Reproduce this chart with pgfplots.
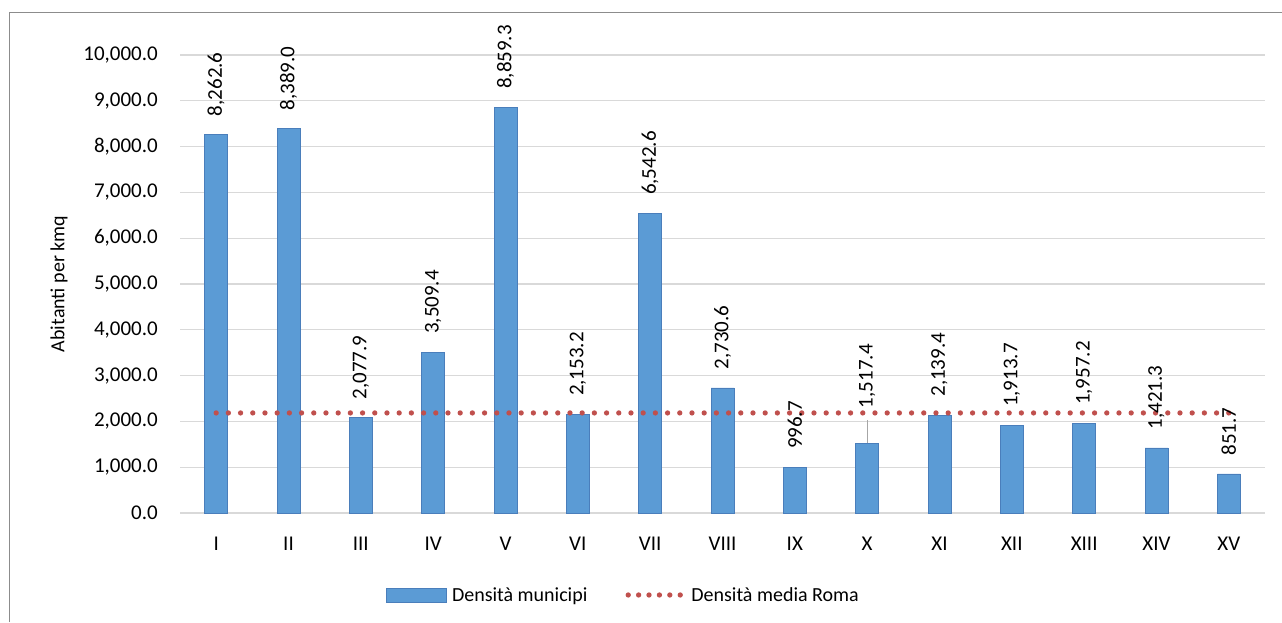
\documentclass[border=0pt]{standalone}
\usepackage{fontspec}
\setmainfont{Carlito}
\usepackage{pgfplots}
\usepackage{pgfplotstable}
\pgfplotsset{compat=1.18}
\definecolor{barblue}{HTML}{5B9BD5}
\definecolor{baredge}{HTML}{4A7EBB}
\definecolor{avgred}{HTML}{C0504D}
\definecolor{gridgray}{HTML}{D9D9D9}
\definecolor{framegray}{HTML}{8C8C8C}
\newcommand\ff{\fontsize{21}{25}\selectfont}
\newcommand\lf{\fontsize{20}{24}\selectfont}

\pgfplotstableread{
x y
0 8262.6
1 8389.0
2 2077.9
3 3509.4
4 8859.3
5 2153.2
6 6542.6
7 2730.6
8 996.7
9 1517.4
10 2139.4
11 1913.7
12 1957.2
13 1421.3
14 851.7
}\density

\begin{document}
\begin{tikzpicture}
\useasboundingbox (0pt,0pt) rectangle (1282pt,622pt);
\draw[framegray, line width=1pt] (9pt,0pt) -- (9pt,609pt) -- (1282pt,609pt);
\begin{axis}[
  at={(180pt,109pt)}, anchor=south west,
  scale only axis, width=1085pt, height=458pt,
  xmin=-0.5, xmax=14.5, ymin=0, ymax=10000,
  clip=false,
  xtick={0,...,14},
  xticklabels={I,II,III,IV,V,VI,VII,VIII,IX,X,XI,XII,XIII,XIV,XV},
  ytick={0,1000,...,10000},
  scaled y ticks=false,
  ymajorgrids, major grid style={gridgray, line width=1.3pt},
  axis line style={draw=none}, major tick length=0pt,
  /pgf/number format/.cd, fixed, fixed zerofill, precision=1, 1000 sep={,}, assume math mode=true,
  /pgfplots/.cd,
  yticklabel style={font=\ff, anchor=east, inner sep=0pt, xshift=-22pt},
  xticklabel style={font=\ff, anchor=north, inner sep=0pt, yshift=-24pt},
  ylabel={Abitanti per kmq},
  every axis y label/.style={at={(axis description cs:-0.1115,0.5)}, rotate=90, anchor=center, font=\lf},
  legend columns=2,
  legend style={at={(axis description cs:0.1894,-0.179)}, anchor=west, draw=none, fill=none,
    inner sep=0pt, font=\lf, nodes={inner xsep=3.5pt, inner ysep=0pt},
    /tikz/every even column/.append style={column sep=32pt}},
]
\addplot[gray!70, line width=1pt, forget plot] coordinates {(9,1517.4) (9,2030)};
\addplot[ybar, bar width=23pt, bar shift=0pt, fill=barblue, draw=baredge, line width=0.8pt,
  nodes near coords, skip coords between index={9}{10},
  every node near coord/.append style={rotate=90, anchor=west, inner xsep=18pt, inner ysep=0pt, font=\ff, text=black},
  legend image code/.code={\fill[barblue, draw=baredge, line width=0.8pt] (0pt,-7pt) rectangle (60pt,7pt); \path (62pt,0pt);}
  ] table[x=x, y=y] {\density};
\addlegendentry{Densità municipi}
\addplot[ybar, bar width=23pt, bar shift=0pt, fill=barblue, draw=baredge, line width=0.8pt,
  nodes near coords, forget plot,
  every node near coord/.append style={rotate=90, anchor=west, inner xsep=35pt, inner ysep=0pt, font=\ff, text=black}
  ] coordinates {(9,1517.4)};
\addplot[avgred, line width=5.3pt, line cap=round, dash pattern=on 0pt off 12.2pt,
  legend image code/.code={\draw[avgred, line width=5.3pt, line cap=round, dash pattern=on 0pt off 10.4pt] (0pt,0pt) -- (52pt,0pt); \path (-2.6pt,0pt) (57pt,0pt);}
  ] coordinates {(0,2185) (1,2185) (2,2185) (3,2185) (4,2185) (5,2185) (6,2185) (7,2185) (8,2185) (9,2185) (10,2185) (11,2185) (12,2185) (13,2185) (14,2185)};
\addlegendentry{Densità media Roma}
\end{axis}
\end{tikzpicture}
\end{document}
